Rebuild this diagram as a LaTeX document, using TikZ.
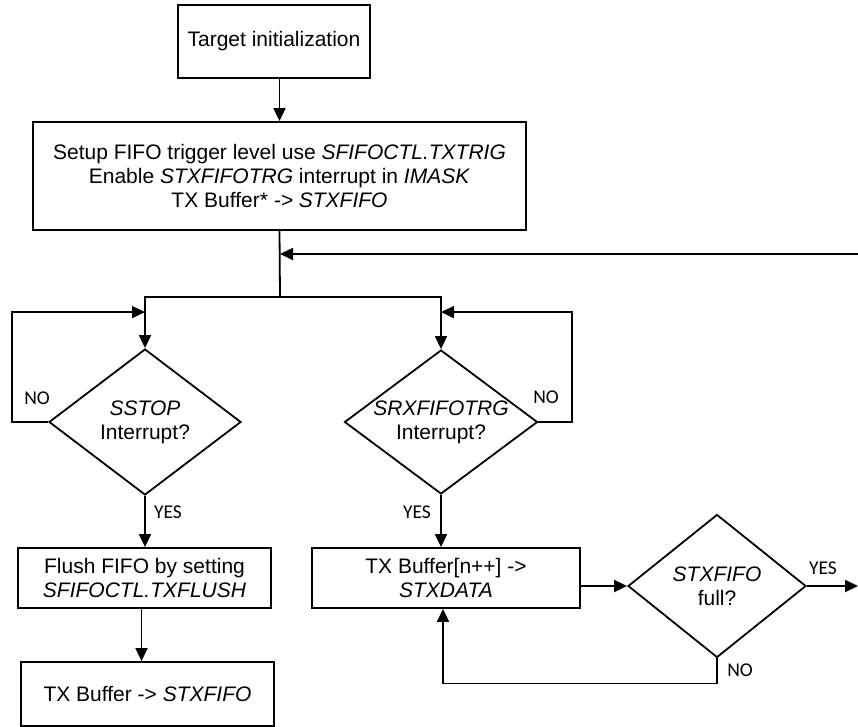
\documentclass[tikz,border=0pt]{standalone}
\usepackage{fontspec}
\setmainfont{Liberation Sans}
\newfontfamily\lblfont{Carlito}
\usetikzlibrary{shapes.geometric,arrows.meta}
\begin{document}
\begin{tikzpicture}[x=1pt,y=-1pt,
  every node/.style={font=\fontsize{21}{24}\selectfont},
  box/.style={draw,line width=1.8pt,align=center,inner sep=0pt},
  dec/.style={draw,diamond,line width=1.8pt,align=center,inner sep=0pt,shape aspect=1.34},
  lbl/.style={font=\lblfont\fontsize{19.5}{22}\selectfont,inner sep=0pt},
  arr/.style={line width=1.8pt,-{Triangle[length=13pt,width=12pt]}},
  ln/.style={line width=1.8pt}]
\useasboundingbox (0,0) rectangle (858,727);

\node[box,minimum width=192,minimum height=73] (init) at (274,41.5) {Target initialization};
\node[box,minimum width=493,minimum height=108] (setup) at (279.5,176)
  {Setup FIFO trigger level use \textit{SFIFOCTL.TXTRIG}\\ Enable \textit{STXFIFOTRG} interrupt in \textit{IMASK}\\ TX Buffer* \textit{-> STXFIFO}};

\node[dec,minimum width=192,minimum height=146] (d1) at (145,422) {\textit{SSTOP}\\Interrupt?};
\node[dec,minimum width=190,minimum height=143] (d2) at (441,422) {\textit{SRXFIFOTRG}\\Interrupt?};
\node[dec,minimum width=178,minimum height=143] (d3) at (717,586) {\textit{STXFIFO}\\full?};

\node[box,minimum width=253,minimum height=60] (flush) at (144.5,578) {Flush FIFO by setting\\\textit{SFIFOCTL.TXFLUSH}};
\node[box,minimum width=253,minimum height=64] (txb) at (147.5,694) {TX Buffer -> \textit{STXFIFO}};
\node[box,minimum width=268,minimum height=60] (txn) at (446,578) {TX Buffer[n++] ->\\\textit{STXDATA}};

\coordinate (split) at (280,297);
\coordinate (fb) at (858,254);
\coordinate (yesout) at (858,586);

\draw[arr] (init.south -| setup.north) -- (setup.north);
\draw[ln] (setup.south) -- (split);
\draw[arr] (split) -| (d1.north);
\draw[arr] (split) -| (d2.north);
\draw[arr] (fb) -- (fb -| split);
\draw[arr] (d1.west) -- ++(-36,0) |- ([yshift=36pt]d1.north);
\draw[arr] (d2.east) -- ++(34,0) |- ([yshift=37pt]d2.north);
\draw[arr] (d1.south) -- (d1.south |- flush.north);
\draw[arr] ([xshift=-3pt]flush.south) -- ([xshift=-3pt]flush.south |- txb.north);
\draw[arr] (d2.south) -- (d2.south |- txn.north);
\draw[arr] (txn.east |- d3.west) -- (d3.west);
\draw[arr] (d3.east) -- (yesout);
\draw[arr] (d3.south) -- ++(0,25) -| ([xshift=-3pt]txn.south);

\node[lbl] (no1) at (37,398) {NO};
\node[lbl] (no2) at (546,397) {NO};
\node[lbl] (yes1) at (168,512) {YES};
\node[lbl] (yes2) at (417,512) {YES};
\node[lbl] (yes3) at (823,568) {YES};
\node[lbl] (no3) at (740,670) {NO};
\end{tikzpicture}
\end{document}
